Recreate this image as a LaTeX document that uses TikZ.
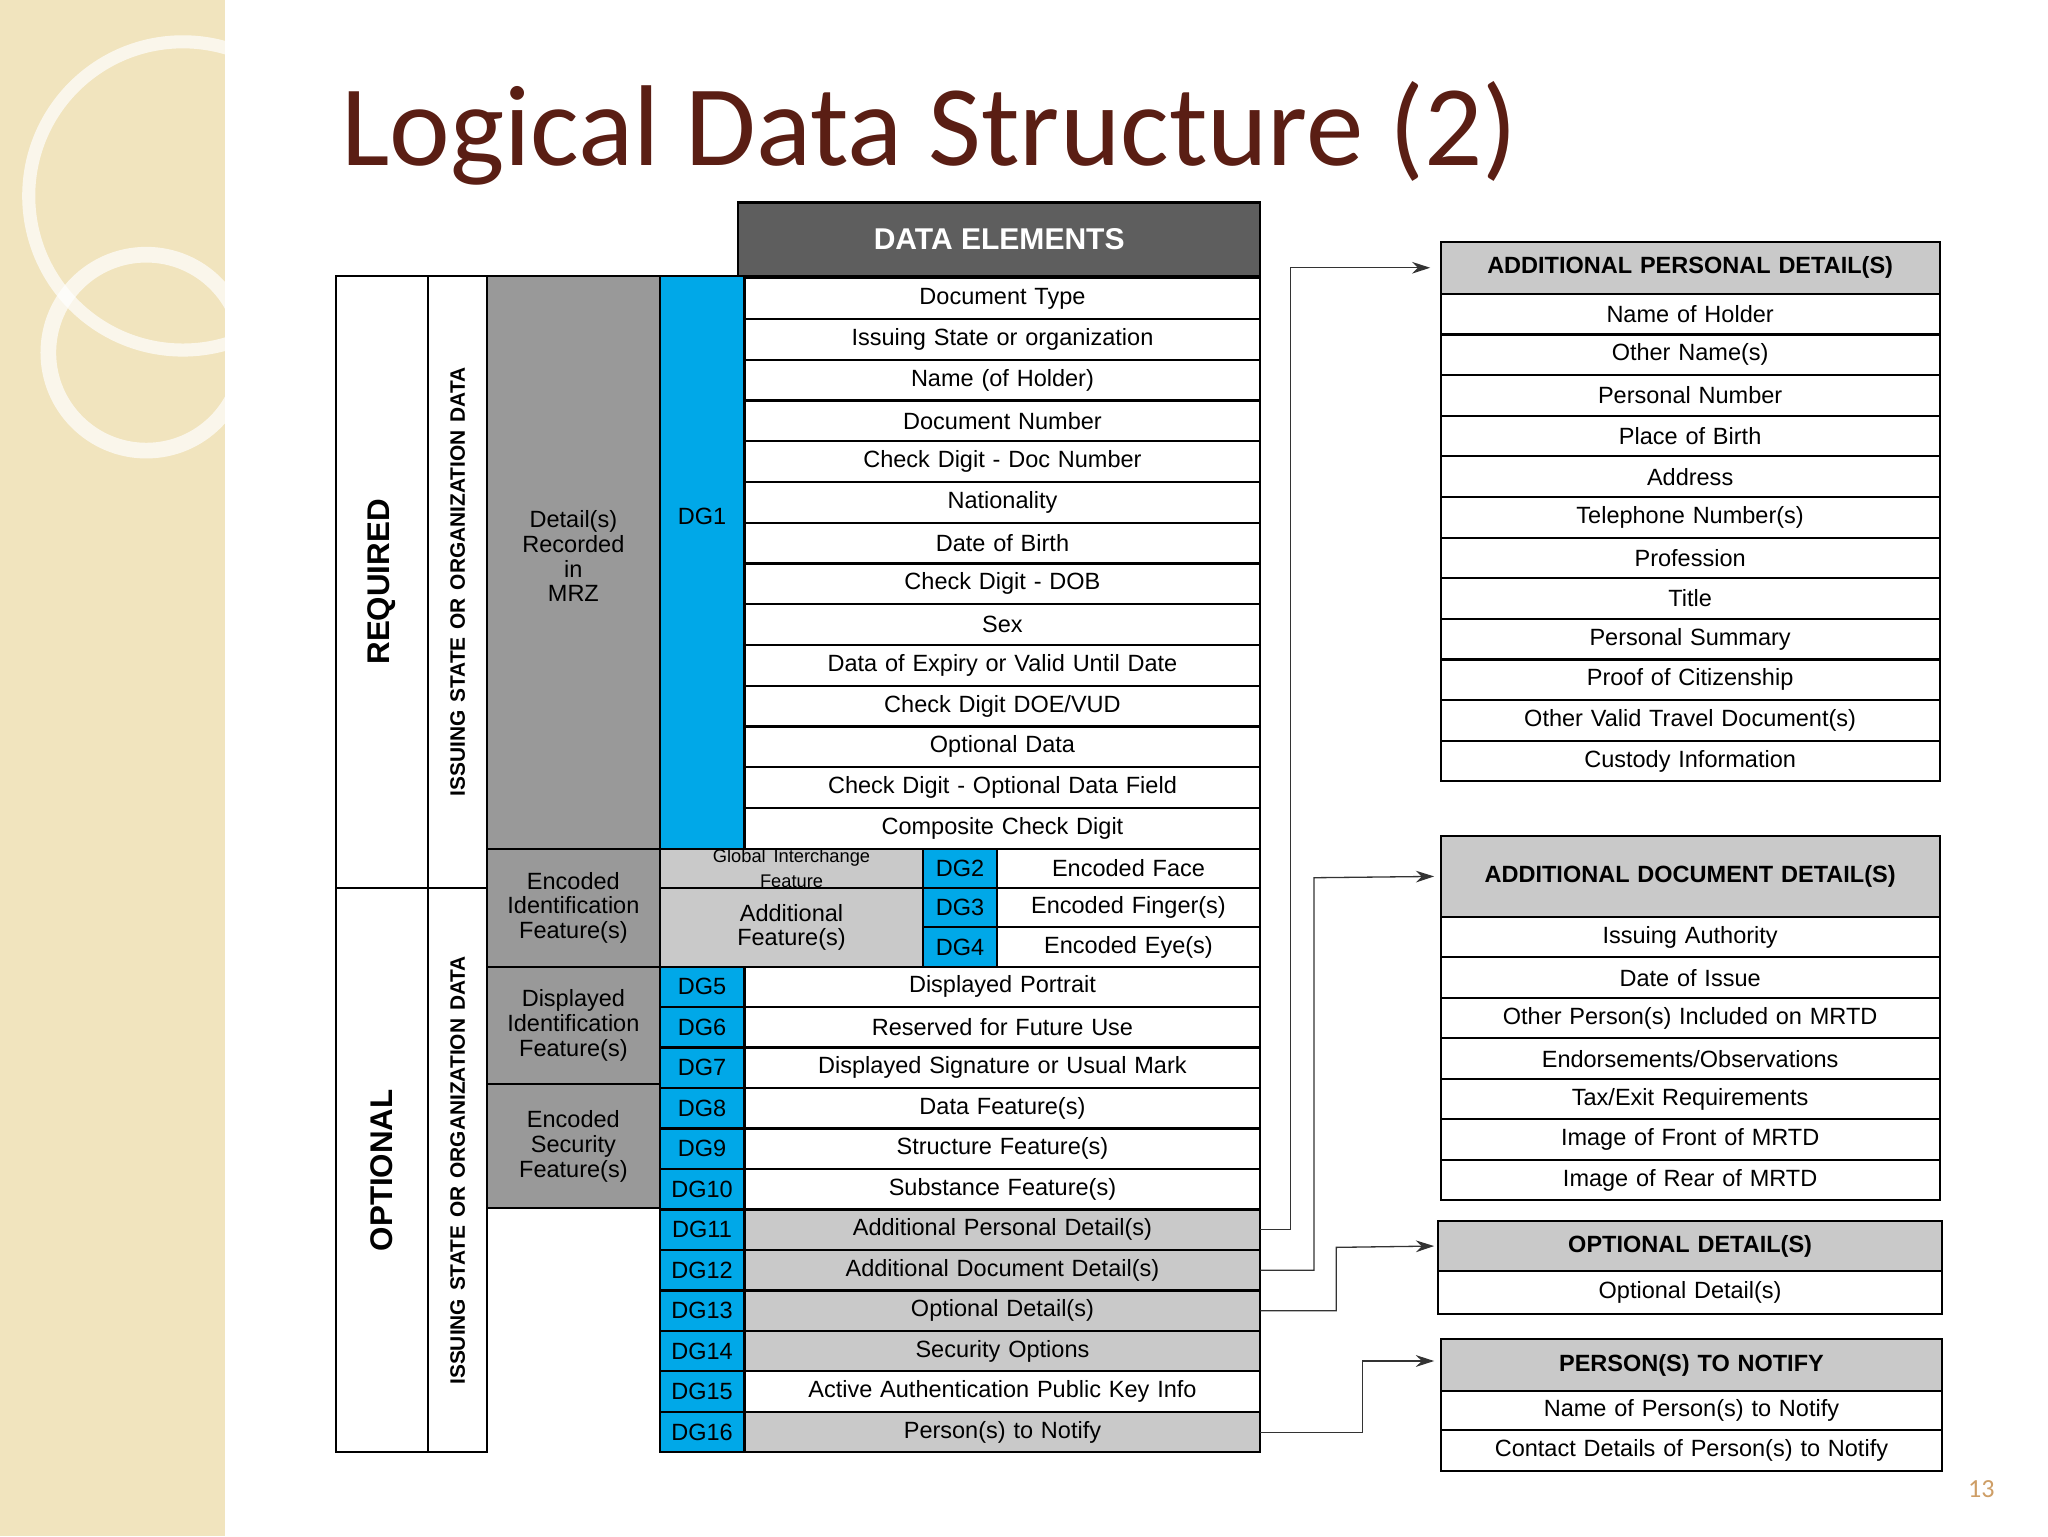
\documentclass[tikz,border=0pt]{standalone}
\usetikzlibrary{arrows.meta}
\usepackage{fontspec}
\setmainfont{Liberation Sans}
\newfontfamily\titlefont{Carlito}
\definecolor{beige}{HTML}{F1E4BE}
\definecolor{ttl}{HTML}{5A1E14}
\definecolor{cy}{HTML}{00A8E8}
\definecolor{gA}{HTML}{999999}
\definecolor{gB}{HTML}{C9C9C9}
\definecolor{hdr}{HTML}{5E5E5E}
\tikzset{cell/.style={draw=black,line width=1.6pt,inner sep=0pt,outer sep=0pt,anchor=north west,align=center,font=\fontsize{18}{19}\selectfont},
 arr/.style={-{Stealth[length=14pt,width=9pt]},line width=1pt,draw=black!80}}
\newcommand{\cb}[7]{\node[cell,#6,minimum width=#4pt,minimum height=#5pt,text width=#4pt] (#1) at (#2,#3) {#7};}
\begin{document}
\begin{tikzpicture}[x=1pt,y=-1pt]
\useasboundingbox (0,0) rectangle (1568,1176);
\fill[white] (0,0) rectangle (1568,1176);
\fill[beige] (0,0) rectangle (172,1176);
\draw[white,line width=10pt,opacity=0.7] (140,150) circle (118);
\draw[white,line width=12pt,opacity=0.7] (112,270) circle (75);
\node[anchor=base west,text=ttl,font=\titlefont\fontsize{88}{90}\selectfont] (title) at (258,127) {Logical Data Structure (2)};
\node[text=brown!70!beige,font=\titlefont\fontsize{20}{20}\selectfont] (pg) at (1517,1140) {13};
% left columns
\cb{req}{257}{211}{71}{469}{}{\rotatebox{90}{\fontsize{24}{24}\selectfont\bfseries REQUIRED}}
\cb{opt}{257}{680}{71}{432}{}{\rotatebox{90}{\fontsize{24}{24}\selectfont\bfseries OPTIONAL}}
\cb{is1}{328}{211}{45}{469}{}{\rotatebox{90}{\fontsize{16}{16}\selectfont\bfseries ISSUING STATE OR ORGANIZATION DATA}}
\cb{is2}{328}{680}{45}{432}{}{\rotatebox{90}{\fontsize{16}{16}\selectfont\bfseries ISSUING STATE OR ORGANIZATION DATA}}
\cb{mrz}{373}{211}{132}{439}{fill=gA}{\raisebox{40pt}{\parbox{120pt}{\centering Detail(s)\\Recorded\\in\\MRZ}}}
\cb{eif}{373}{650}{132}{90}{fill=gA}{Encoded\\Identification\\Feature(s)}
\cb{dif}{373}{740}{132}{90}{fill=gA}{Displayed\\Identification\\Feature(s)}
\cb{esf}{373}{830}{132}{95}{fill=gA}{Encoded\\Security\\Feature(s)}
\cb{dg1}{505}{211}{65}{439}{fill=cy}{\raisebox{70pt}{DG1}}
\node[cell,fill=hdr,minimum width=400pt,minimum height=56pt,text=white,font=\fontsize{23}{24}\selectfont\bfseries] (de) at (565,155) {DATA ELEMENTS};
\foreach \t [count=\i from 0] in {Document Type,Issuing State or organization,Name (of Holder),Document Number,Check Digit - Doc Number,Nationality,Date of Birth,Check Digit - DOB,Sex,Data of Expiry or Valid Until Date,Check Digit DOE/VUD,Optional Data,Check Digit - Optional Data Field,Composite Check Digit}
  {\cb{r\i}{570}{213+\i*31.2}{395}{31.2}{}{\t}}
\cb{gif}{505}{650}{202}{30}{fill=gB}{\fontsize{14}{12}\selectfont Global Interchange\\Feature}
\cb{af}{505}{680}{202}{60}{fill=gB}{Additional\\Feature(s)}
\foreach \n/\t [count=\i from 0] in {2/Encoded Face,3/Encoded Finger(s),4/Encoded Eye(s)}{
  \cb{dg\n}{707}{650+\i*30}{56}{30}{fill=cy}{DG\n}
  \cb{e\n}{763}{650+\i*30}{202}{30}{}{\t}}
\foreach \n/\t/\f [count=\i from 0] in {5/Displayed Portrait/white,6/Reserved for Future Use/white,7/Displayed Signature or Usual Mark/white,8/Data Feature(s)/white,9/Structure Feature(s)/white,10/Substance Feature(s)/white,11/Additional Personal Detail(s)/gB,12/Additional Document Detail(s)/gB,13/Optional Detail(s)/gB,14/Security Options/gB,15/Active Authentication Public Key Info/white,16/Person(s) to Notify/gB}{
  \cb{dg\n}{505}{740+\i*31}{65}{31}{fill=cy}{DG\n}
  \cb{e\n}{570}{740+\i*31}{395}{31}{fill=\f}{\t}}
% right boxes
\cb{h1}{1103}{185}{382}{40}{fill=gB,font=\fontsize{18}{18}\selectfont\bfseries}{ADDITIONAL PERSONAL DETAIL(S)}
\foreach \t [count=\i from 0] in {Name of Holder,Other Name(s),Personal Number,Place of Birth,Address,Telephone Number(s),Profession,Title,Personal Summary,Proof of Citizenship,Other Valid Travel Document(s),Custody Information}
  {\cb{a\i}{1103}{225+\i*31.1}{382}{31.1}{}{\t}}
\cb{h2}{1103}{640}{382}{62}{fill=gB,font=\fontsize{18}{18}\selectfont\bfseries}{ADDITIONAL DOCUMENT DETAIL(S)}
\foreach \t [count=\i from 0] in {Issuing Authority,Date of Issue,Other Person(s) Included on MRTD,Endorsements/Observations,Tax/Exit Requirements,Image of Front of MRTD,Image of Rear of MRTD}
  {\cb{b\i}{1103}{702+\i*31}{382}{31}{}{\t}}
\cb{h3}{1101}{935}{386}{38}{fill=gB,font=\fontsize{18}{18}\selectfont\bfseries}{OPTIONAL DETAIL(S)}
\cb{c0}{1101}{973}{386}{33}{}{Optional Detail(s)}
\cb{h4}{1103}{1025}{384}{40}{fill=gB,font=\fontsize{18}{18}\selectfont\bfseries}{PERSON(S) TO NOTIFY}
\cb{d0}{1103}{1065}{384}{30}{}{Name of Person(s) to Notify}
\cb{d1}{1103}{1095}{384}{31}{}{Contact Details of Person(s) to Notify}
% connectors
\draw[arr] (e11.east) -| (988,205) -- ([xshift=-8pt]h1.west|-0,205);
\draw[arr] (e12.east) -| (1006,672) -- ([xshift=-5pt]h2.west);
\draw[arr] (e13.east) -| (1023,955) -- ([xshift=-3pt]h3.west);
\draw[arr] (e16.east) -| (1043,1042) -- ([xshift=-5pt]h4.west|-0,1042);
\end{tikzpicture}
\end{document}
